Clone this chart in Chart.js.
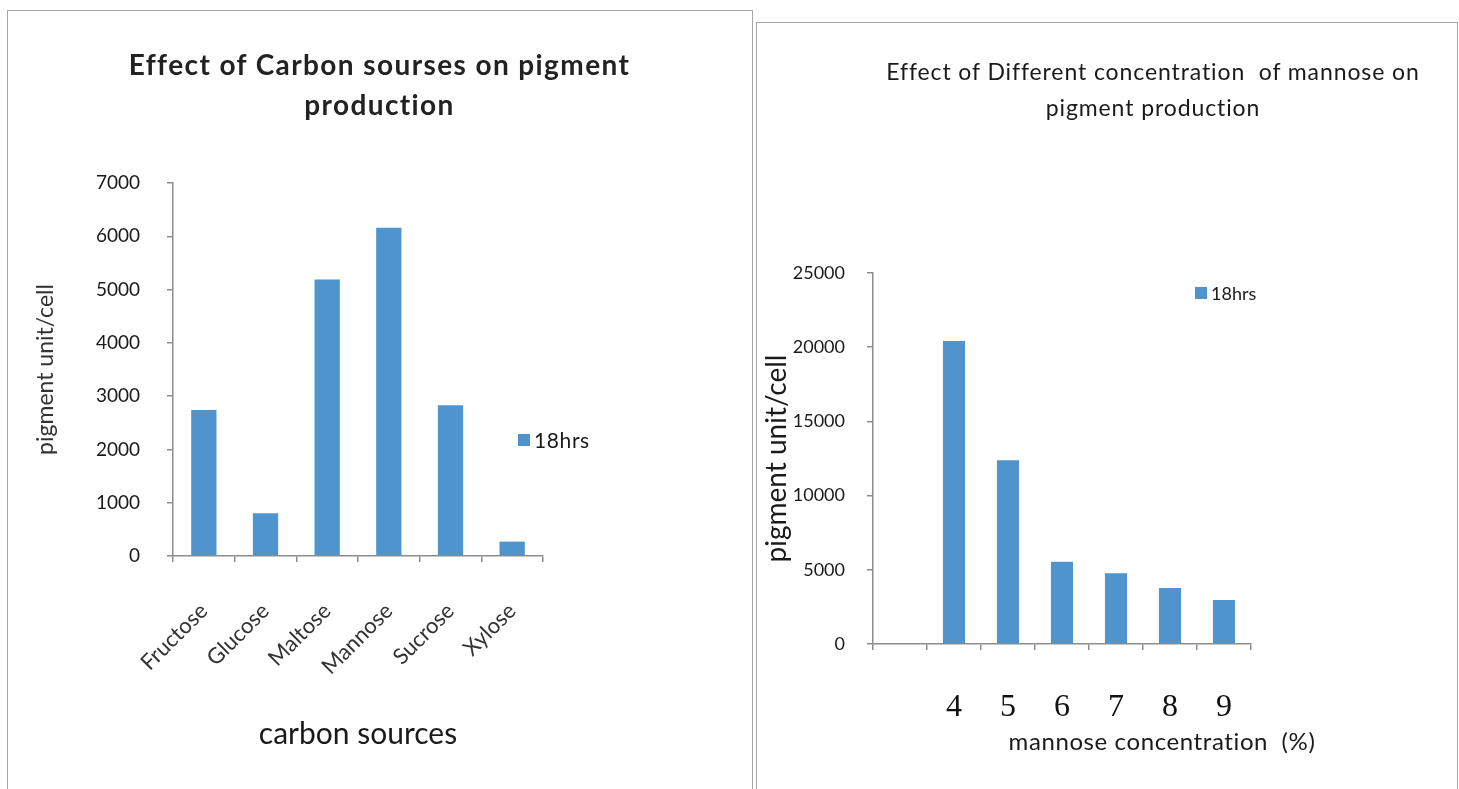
<!DOCTYPE html>
<html lang="en">
<head>
<meta charset="UTF-8">
<title>Pigment production</title>
<script src="https://cdn.jsdelivr.net/npm/chart.js"></script>
<style>
  body { margin: 0; background: #fff; width: 1459px; height: 789px; overflow: hidden; position: relative; font-family: Lato, "Open Sans", sans-serif; color: #1a1a1a; }
  .painel { position: absolute; border: 1.5px solid #a6a6a6; box-sizing: border-box; }
  #painelEsq { left: 7px; top: 10px; width: 746px; height: 800px; }
  #painelDir { left: 756px; top: 22px; width: 702px; height: 800px; }
  canvas { position: absolute; top: 0; }
  #graficoEsq { left: 0; }
  #graficoDir { left: 757px; }
  .titulo { position: absolute; text-align: center; white-space: nowrap; }
  #tituloEsq { left: 7px; width: 745px; top: 44px; font-size: 28px; font-weight: bold; line-height: 40px; letter-spacing: 1.4px; color: #222; }
  #tituloDir { left: 870px; width: 566px; top: 53px; font-size: 23px; line-height: 36px; letter-spacing: 0.9px; }
  .legenda { position: absolute; white-space: nowrap; display: flex; align-items: center; }
  .legenda span.cor { display: inline-block; width: 12px; height: 12px; background: #4F94CD; margin-right: 4px; }
  #legendaEsq { left: 518px; top: 427px; font-size: 21px; letter-spacing: 0.6px; }
  #legendaDir { left: 1195px; top: 282px; font-size: 18px; }
  #eixoXDir { position: absolute; left: 962px; width: 400px; top: 726px; font-size: 24px; letter-spacing: 0.6px; text-align: center; white-space: nowrap; }
</style>
</head>
<body>
  <div class="painel" id="painelEsq"></div>
  <div class="painel" id="painelDir"></div>

  <canvas id="graficoEsq" width="752" height="789"></canvas>
  <canvas id="graficoDir" width="702" height="789"></canvas>

  <div class="titulo" id="tituloEsq">Effect of Carbon sourses on pigment<br>production</div>
  <div class="titulo" id="tituloDir">Effect of Different concentration&nbsp; of mannose on<br>pigment production</div>

  <div class="legenda" id="legendaEsq"><span class="cor"></span>18hrs</div>
  <div class="legenda" id="legendaDir"><span class="cor"></span>18hrs</div>
  <div id="eixoXDir">mannose concentration&nbsp; (%)</div>

<script>
// dados
const fontesCarbono = ["Fructose", "Glucose", "Maltose", "Mannose", "Sucrose", "Xylose"];
const pigmentoCarbono = [2740, 800, 5190, 6160, 2830, 270];
const ticksCarbono = [0, 1000, 2000, 3000, 4000, 5000, 6000, 7000];

const concentracoes = ["", "4", "5", "6", "7", "8", "9"];
const pigmentoConc = [null, 20420, 12390, 5540, 4760, 3770, 2960];
const ticksConc = [0, 5000, 10000, 15000, 20000, 25000];

const serie = "18hrs";
const corBarra = "#4F94CD";
const corEixo = "#8c8c8c";

Chart.defaults.font.family = "Lato, 'Open Sans', sans-serif";
Chart.defaults.color = "#1a1a1a";

function eixoGrade() {
  return { drawOnChartArea: false, drawTicks: true, tickLength: 6, color: corEixo, lineWidth: 1.5 };
}

function fixarTicks(lista) {
  return function (scale) {
    scale.ticks = lista.map(function (v) { return { value: v }; });
  };
}

// sem separador de milhar
function semVirgula(valor) {
  return String(valor);
}

// grafico da esquerda
new Chart(document.getElementById("graficoEsq"), {
  type: "bar",
  data: {
    labels: fontesCarbono,
    datasets: [{
      label: serie,
      data: pigmentoCarbono,
      backgroundColor: corBarra,
      categoryPercentage: 1,
      barPercentage: 0.41
    }]
  },
  options: {
    responsive: false,
    devicePixelRatio: 1,
    animation: false,
    layout: { padding: { left: 30, right: 209, top: 183, bottom: 35 } },
    plugins: { legend: { display: false }, tooltip: { enabled: false } },
    scales: {
      x: {
        grid: eixoGrade(),
        border: { color: corEixo, width: 1.5 },
        ticks: { maxRotation: 45, minRotation: 45, font: { size: 22 }, padding: 36, color: "#333" },
        title: { display: true, text: "carbon sources", font: { size: 30 }, padding: { top: 4, bottom: 2 }, color: "#1a1a1a" },
        afterFit: function (s) { s.height = 198; }
      },
      y: {
        min: 0,
        max: 7000,
        grid: eixoGrade(),
        border: { color: corEixo, width: 1.5 },
        ticks: { font: { size: 19 }, padding: 27, color: "#1a1a1a", callback: semVirgula },
        afterBuildTicks: fixarTicks(ticksCarbono),
        title: { display: true, text: "pigment unit/cell", font: { size: 23 }, color: "#333", padding: { top: 2, bottom: 4 } },
        afterFit: function (s) { s.width = 143; }
      }
    }
  }
});

// grafico da direita
new Chart(document.getElementById("graficoDir"), {
  type: "bar",
  data: {
    labels: concentracoes,
    datasets: [{
      label: serie,
      data: pigmentoConc,
      backgroundColor: corBarra,
      categoryPercentage: 1,
      barPercentage: 0.41
    }]
  },
  options: {
    responsive: false,
    devicePixelRatio: 1,
    animation: false,
    layout: { padding: { left: 3, right: 208, top: 273, bottom: 45 } },
    plugins: { legend: { display: false }, tooltip: { enabled: false } },
    scales: {
      x: {
        grid: eixoGrade(),
        border: { color: corEixo, width: 1.5 },
        ticks: { maxRotation: 0, minRotation: 0, autoSkip: false, font: { family: "'Liberation Serif', serif", size: 32 }, padding: 38, color: "#111" },
        afterFit: function (s) { s.height = 100; }
      },
      y: {
        min: 0,
        max: 25000,
        grid: eixoGrade(),
        border: { color: corEixo, width: 1.5 },
        ticks: { font: { size: 18 }, padding: 22, color: "#1a1a1a", callback: semVirgula },
        afterBuildTicks: fixarTicks(ticksConc),
        title: { display: true, text: "pigment unit/cell", font: { size: 28 }, color: "#1a1a1a", padding: { top: 0, bottom: 4 } },
        afterFit: function (s) { s.width = 113; }
      }
    }
  }
});
</script>
</body>
</html>
